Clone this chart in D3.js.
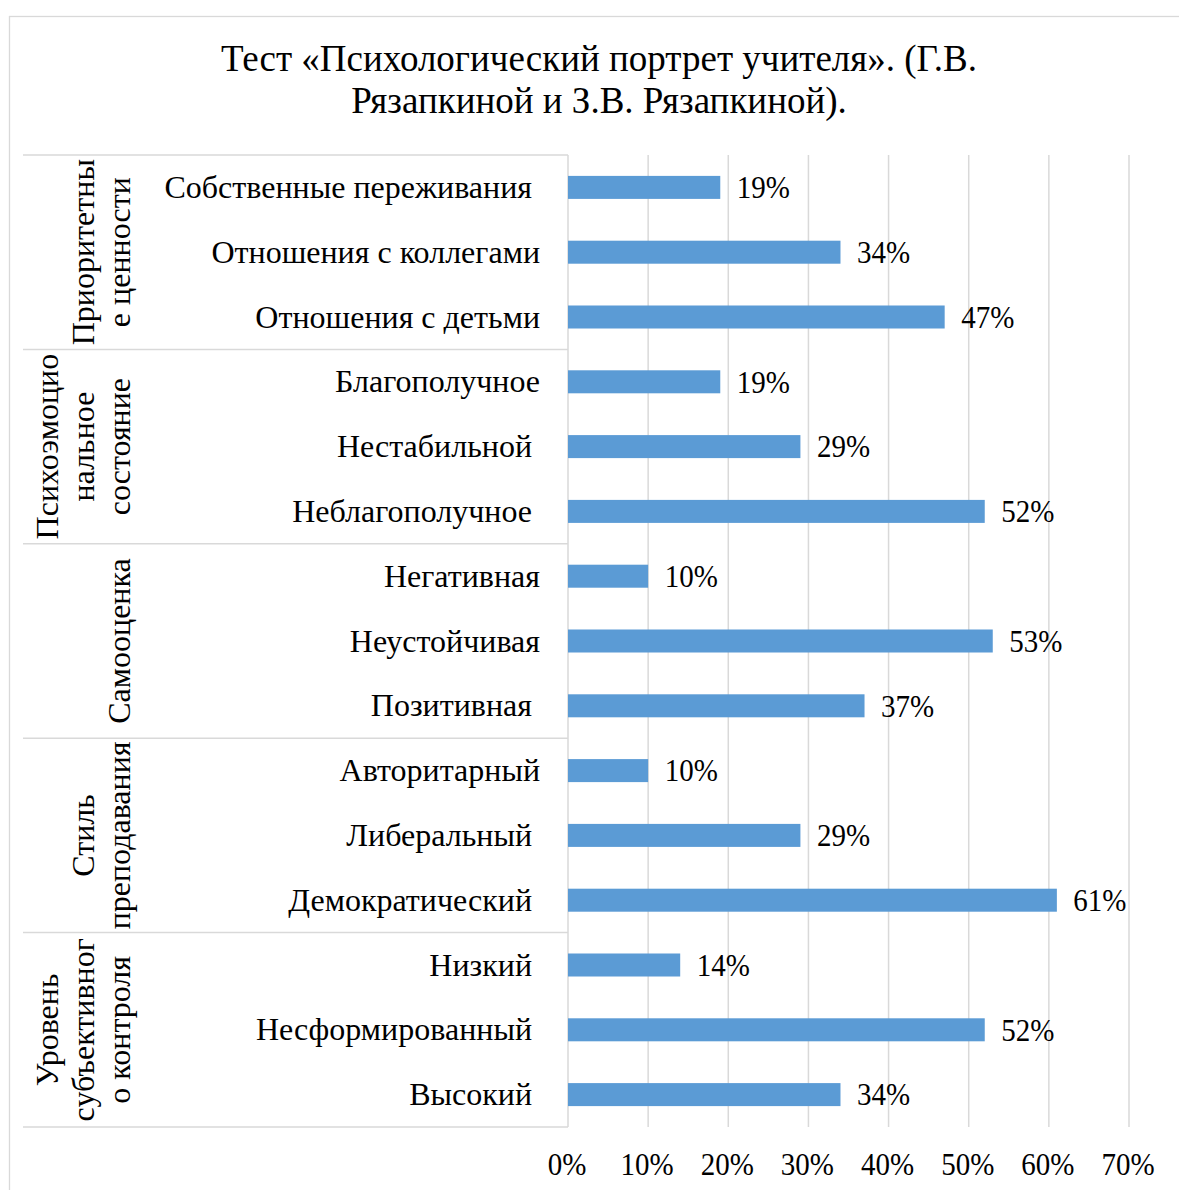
<!DOCTYPE html>
<html>
<head>
<meta charset="utf-8">
<script src="https://cdn.jsdelivr.net/npm/d3@7"></script>
<style>
  html, body { margin: 0; padding: 0; background: #fff; }
  svg text { font-family: "Liberation Serif", "Times New Roman", serif; fill: #000; white-space: pre; }
</style>
</head>
<body>
<svg id="chart" width="1179" height="1190"></svg>
<script>
// Groups of the multi-level category axis (each line of a wrapped label is a separate entry)
const groups = [
  ["Приоритетны", "е ценности"],
  ["Психоэмоцио", "нальное", "состояние"],
  ["Самооценка"],
  ["Стиль", "преподавания"],
  ["Уровень", "субъективног", "о контроля"]
];
// Categories within each group, top to bottom
const categories = [
  ["Собственные переживания ", "Отношения с коллегами", "Отношения с детьми"],
  ["Благополучное", "Нестабильной ", "Неблагополучное "],
  ["Негативная", "Неустойчивая", "Позитивная "],
  ["Авторитарный", "Либеральный ", "Демократический "],
  ["Низкий ", "Несформированный ", "Высокий "]
];
// Share of respondents, percent
const values = [
  [19, 34, 47],
  [19, 29, 52],
  [10, 53, 37],
  [10, 29, 61],
  [14, 52, 34]
];
const ticks = [0, 0.1, 0.2, 0.3, 0.4, 0.5, 0.6, 0.7];
const titleLines = ["Тест «Психологический портрет учителя». (Г.В.", "Рязапкиной и З.В. Рязапкиной)."];

const rows = [];
categories.forEach((cats, g) => cats.forEach((c, i) => rows.push({ id: g + "-" + i, group: g, label: c, value: values[g][i] / 100 })));

const svg = d3.select("#chart");
const plotTop = 155, plotBottom = 1127;
const axisLeft = 23;

// Outer chart frame
svg.append("rect")
  .attr("x", 9.5).attr("y", 16.5).attr("width", 1300).attr("height", 1300)
  .attr("fill", "none").attr("stroke", "#d9d9d9").attr("stroke-width", 1.3);

// Title
svg.append("g").selectAll("text").data(titleLines).join("text")
  .attr("x", 599).attr("y", (d, i) => 71 + i * 42)
  .attr("text-anchor", "middle")
  .style("font-size", "37px")
  .text(d => d);

const x = d3.scaleLinear().domain([0, 0.7]).range([568, 1129]);
const y = d3.scaleBand().domain(rows.map(r => r.id)).range([plotTop, plotBottom])
  .paddingInner(0.645).paddingOuter(0.3225);
const groupH = (plotBottom - plotTop) / groups.length;

// Vertical gridlines
svg.append("g").selectAll("line").data(ticks).join("line")
  .attr("x1", d => x(d)).attr("x2", d => x(d))
  .attr("y1", plotTop).attr("y2", plotBottom)
  .attr("stroke", "#d9d9d9").attr("stroke-width", 1.5);

// Horizontal group separators of the category axis
svg.append("g").selectAll("line").data(d3.range(groups.length + 1)).join("line")
  .attr("x1", axisLeft).attr("x2", x(0))
  .attr("y1", d => plotTop + d * groupH).attr("y2", d => plotTop + d * groupH)
  .attr("stroke", "#d9d9d9").attr("stroke-width", 1.5);

// Bars
svg.append("g").selectAll("rect").data(rows).join("rect")
  .attr("x", x(0)).attr("y", d => y(d.id))
  .attr("width", d => x(d.value) - x(0)).attr("height", y.bandwidth())
  .attr("fill", "#5b9bd5");

const pct = d3.format(".0%");
// Value labels (slightly tall figures)
svg.append("g").selectAll("text").data(rows).join("text")
  .attr("transform", d => `translate(${x(d.value) + 16.5},${y(d.id) + y.bandwidth() / 2 + 10.8}) scale(1,1.1)`)
  .style("font-size", "29px")
  .text(d => pct(d.value));

// Category labels
svg.append("g").selectAll("text").data(rows).join("text")
  .attr("x", 540)
  .attr("y", d => y(d.id) + y.bandwidth() / 2 + 10.5)
  .attr("text-anchor", "end")
  .style("font-size", "32px")
  .text(d => d.label);

// Group labels, rotated
groups.forEach((lines, g) => {
  const cy = plotTop + (g + 0.5) * groupH;
  lines.forEach((ln, i) => {
    const bx = 130 - 36 * (lines.length - 1 - i);
    svg.append("text")
      .attr("transform", `translate(${bx},${cy}) rotate(-90)`)
      .attr("text-anchor", "middle")
      .style("font-size", "32px")
      .text(ln);
  });
});

// Value axis tick labels
svg.append("g").selectAll("text").data(ticks).join("text")
  .attr("transform", d => `translate(${x(d) - 1},1175) scale(1,1.1)`)
  .attr("text-anchor", "middle")
  .style("font-size", "29px")
  .text(d => pct(d));
</script>
</body>
</html>
